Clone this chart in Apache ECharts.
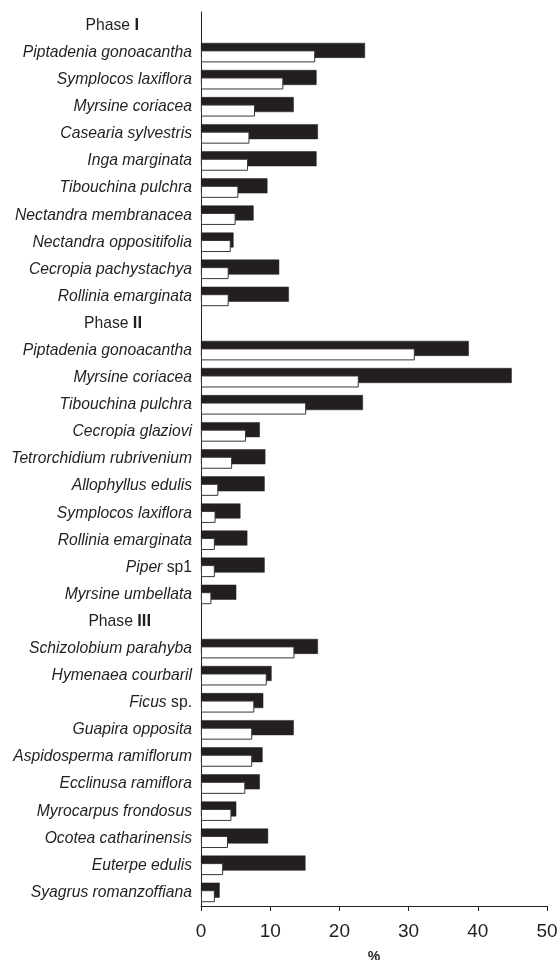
<!DOCTYPE html>
<html lang="en">
<head>
  <meta charset="UTF-8">
  <title>Species share by phase</title>
  <script src="https://cdn.jsdelivr.net/npm/echarts@6/dist/echarts.min.js"></script>
  <style>
    html, body { margin: 0; padding: 0; background: #fff; }
    #chart { width: 558px; height: 960px; }
  </style>
</head>
<body>
  <div id="chart"></div>
<script>
  // rows top to bottom; phase headings are empty rows
  const categories = [
    'Phase|I',
    'Piptadenia gonoacantha', 'Symplocos laxiflora', 'Myrsine coriacea', 'Casearia sylvestris',
    'Inga marginata', 'Tibouchina pulchra', 'Nectandra membranacea', 'Nectandra oppositifolia',
    'Cecropia pachystachya', 'Rollinia emarginata',
    'Phase|II',
    'Piptadenia gonoacantha', 'Myrsine coriacea', 'Tibouchina pulchra', 'Cecropia glaziovi',
    'Tetrorchidium rubrivenium', 'Allophyllus edulis', 'Symplocos laxiflora', 'Rollinia emarginata',
    'Piper|sp1', 'Myrsine umbellata',
    'Phase|III',
    'Schizolobium parahyba', 'Hymenaea courbaril', 'Ficus|sp.', 'Guapira opposita',
    'Aspidosperma ramiflorum', 'Ecclinusa ramiflora', 'Myrocarpus frondosus', 'Ocotea catharinensis',
    'Euterpe edulis', 'Syagrus romanzoffiana'
  ];
  const blackValues = [
    '-', 23.7, 16.7, 13.4, 16.9, 16.7, 9.6, 7.6, 4.7, 11.3, 12.7,
    '-', 38.7, 44.9, 23.4, 8.5, 9.3, 9.2, 5.7, 6.7, 9.2, 5.1,
    '-', 16.9, 10.2, 9.0, 13.4, 8.9, 8.5, 5.1, 9.7, 15.1, 2.7
  ];
  const whiteValues = [
    '-', 16.5, 11.9, 7.8, 7.0, 6.8, 5.4, 5.0, 4.3, 4.0, 4.0,
    '-', 30.9, 22.8, 15.2, 6.5, 4.5, 2.5, 2.1, 2.0, 2.0, 1.5,
    '-', 13.5, 9.5, 7.7, 7.4, 7.4, 6.4, 4.4, 3.9, 3.2, 2.0
  ];
  const xTicks = [0, 10, 20, 30, 40, 50];

  const ink = '#231f20';
  const chart = echarts.init(document.getElementById('chart'));
  chart.setOption({
    animation: false,
    textStyle: { fontFamily: 'Liberation Sans, Arial, sans-serif' },
    grid: { left: 201, right: 11, top: 12, bottom: 54, outerBoundsMode: 'none' },
    xAxis: {
      type: 'value',
      min: xTicks[0],
      max: xTicks[xTicks.length - 1],
      interval: 10,
      name: '%',
      nameLocation: 'middle',
      nameGap: 44,
      nameTextStyle: { fontSize: 14, fontWeight: 'bold', color: ink },
      axisLine: { show: true, lineStyle: { color: ink, width: 1 } },
      axisTick: { show: true, length: 5, lineStyle: { color: ink } },
      axisLabel: { fontSize: 19, color: ink, margin: 16 },
      splitLine: { show: false }
    },
    yAxis: {
      type: 'category',
      inverse: true,
      data: categories,
      axisLine: { show: true, lineStyle: { color: ink, width: 1 } },
      axisTick: { show: false },
      axisLabel: {
        margin: 9,
        color: ink,
        formatter: function (v) {
          if (v.indexOf('Phase|') === 0) {
            const num = v.split('|')[1];
            return '{ph|Phase }{num|' + num + '}{pad' + num.length + '| }';
          }
          if (v.indexOf('|') > 0) {
            const p = v.split('|');
            return '{i|' + p[0] + '}{n| ' + p[1] + '}';
          }
          return '{i|' + v + '}';
        },
        rich: {
          i: { fontStyle: 'italic', fontSize: 15.7, color: ink },
          n: { fontSize: 15.7, color: ink },
          ph: { fontSize: 15.7, color: ink },
          num: { fontSize: 16.5, fontWeight: 'bold', color: ink },
          pad1: { width: 53 },
          pad2: { width: 50 },
          pad3: { width: 41 }
        }
      }
    },
    series: [
      {
        name: 'black',
        type: 'bar',
        data: blackValues,
        barWidth: 15,
        barGap: '-50%',
        itemStyle: { color: ink, borderColor: ink, borderWidth: 0.5 }
      },
      {
        name: 'white',
        type: 'bar',
        data: whiteValues,
        barWidth: 12,
        itemStyle: { color: '#ffffff', borderColor: '#3a3637', borderWidth: 1 }
      }
    ]
  });
</script>
</body>
</html>
